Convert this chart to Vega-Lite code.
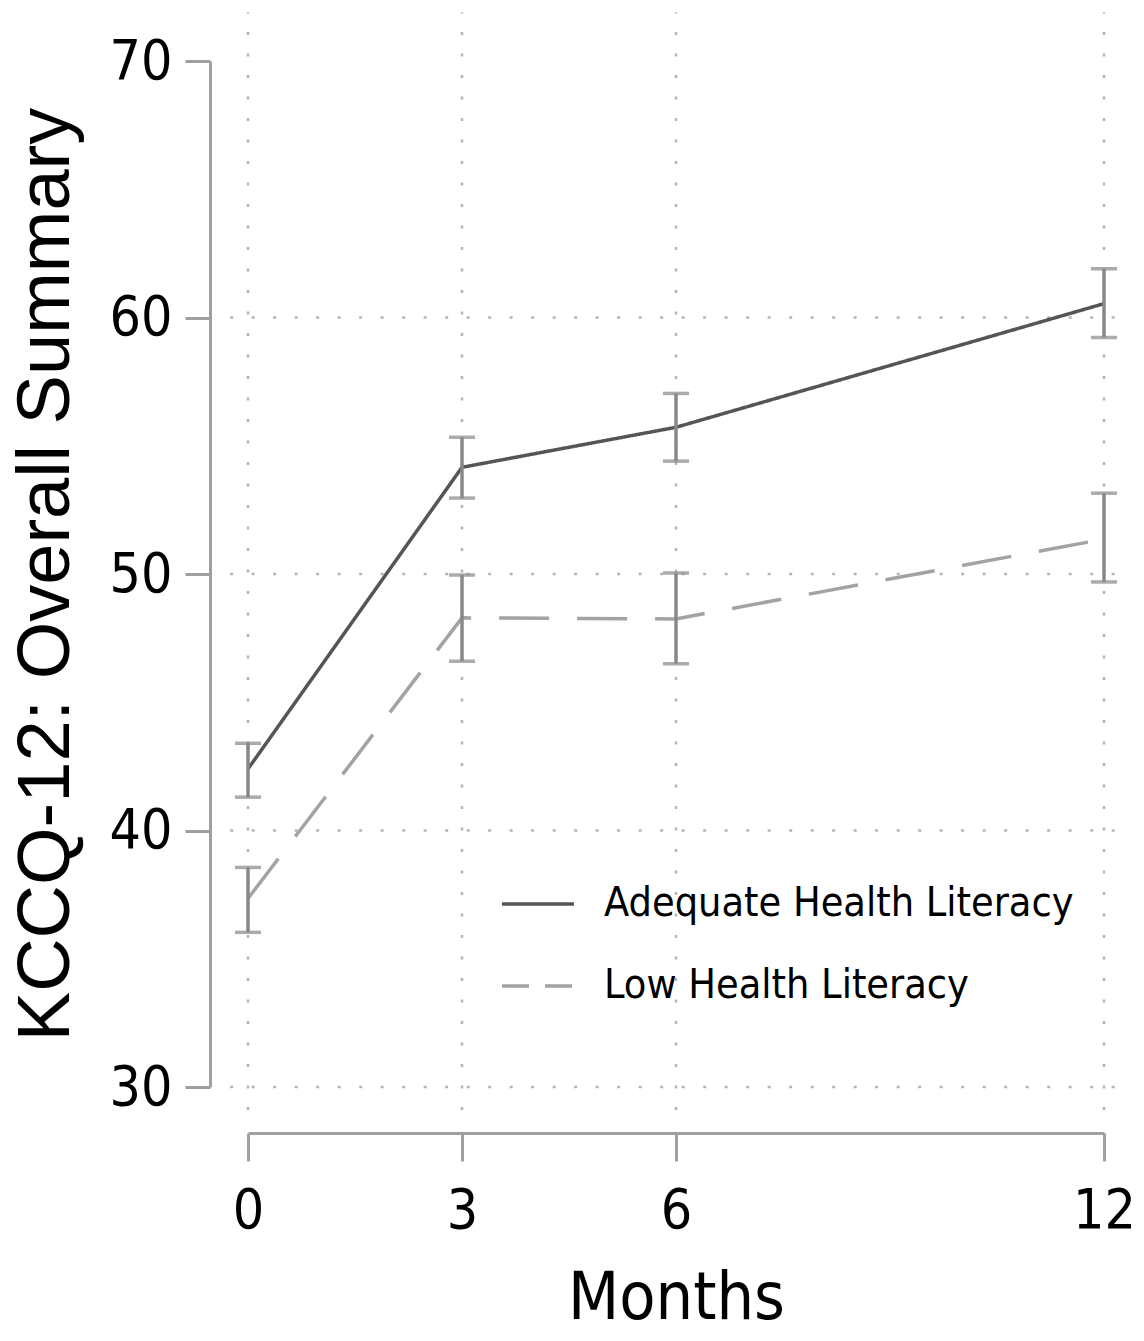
{
  "$schema": "https://vega.github.io/schema/vega-lite/v6.json",
  "width": 856,
  "height": 1026,
  "autosize": "none",
  "padding": {"left": 248, "top": 61, "right": 40, "bottom": 254},
  "background": "white",
  "config": {"view": {"stroke": null}},
  "datasets": {
    "main": [
      {"month": 0, "group": "Adequate Health Literacy", "mean": 42.4, "lo": 41.3, "hi": 43.4},
      {"month": 3, "group": "Adequate Health Literacy", "mean": 54.16, "lo": 52.96, "hi": 55.33},
      {"month": 6, "group": "Adequate Health Literacy", "mean": 55.72, "lo": 54.4, "hi": 57.04},
      {"month": 12, "group": "Adequate Health Literacy", "mean": 60.54, "lo": 59.22, "hi": 61.9},
      {"month": 0, "group": "Low Health Literacy", "mean": 37.35, "lo": 36.03, "hi": 38.56},
      {"month": 3, "group": "Low Health Literacy", "mean": 48.29, "lo": 46.6, "hi": 49.96},
      {"month": 6, "group": "Low Health Literacy", "mean": 48.25, "lo": 46.5, "hi": 50.04},
      {"month": 12, "group": "Low Health Literacy", "mean": 51.36, "lo": 49.69, "hi": 53.15}
    ],
    "xgrid": [{"month": 0}, {"month": 3}, {"month": 6}, {"month": 12}],
    "ygrid": [{"score": 30}, {"score": 40}, {"score": 50}, {"score": 60}]
  },
  "resolve": {"scale": {"color": "independent", "strokeDash": "independent"}},
  "layer": [
    {
      "data": {"name": "xgrid"},
      "mark": {"type": "rule", "color": "#b4b4b4", "strokeWidth": 2.5, "strokeDash": [3, 18.5]},
      "encoding": {
        "x": {"field": "month", "type": "quantitative", "scale": {"domain": [0, 12]}, "title": "Months"},
        "y": {"datum": 29.1, "type": "quantitative", "scale": {"domain": [30, 70]}, "title": "KCCQ-12: Overall Summary"},
        "y2": {"datum": 71.9}
      }
    },
    {
      "data": {"name": "ygrid"},
      "mark": {"type": "rule", "color": "#b4b4b4", "strokeWidth": 2.5, "strokeDash": [3, 18.5]},
      "encoding": {
        "y": {"field": "score", "type": "quantitative", "title": "KCCQ-12: Overall Summary"},
        "x": {"datum": -0.25, "type": "quantitative", "title": "Months"},
        "x2": {"datum": 12.3}
      }
    },
    {
      "data": {"name": "main"},
      "mark": {"type": "line", "strokeWidth": 3.5},
      "encoding": {
        "x": {
          "field": "month", "type": "quantitative",
          "axis": {
            "title": "Months", "values": [0, 3, 6, 12], "format": "d", "grid": false,
            "offset": 46, "tickSize": 28, "tickWidth": 3, "tickColor": "#a0a0a0",
            "domainColor": "#a0a0a0", "domainWidth": 3,
            "labelFont": "Liberation Sans Narrow, Arial Narrow, DejaVu Sans Condensed, sans-serif", "labelFontSize": 55, "labelColor": "#000000",
            "labelPadding": 23, "labelFlush": false,
            "titleFont": "Liberation Sans Narrow, Arial Narrow, DejaVu Sans Condensed, sans-serif", "titleFontSize": 66, "titleFontWeight": "normal",
            "titleColor": "#000000", "titlePadding": 28
          }
        },
        "y": {
          "field": "mean", "type": "quantitative",
          "axis": {
            "title": "KCCQ-12: Overall Summary", "values": [30, 40, 50, 60, 70], "format": "d", "grid": false,
            "offset": 38, "tickSize": 25, "tickWidth": 3, "tickColor": "#a0a0a0",
            "domainColor": "#a0a0a0", "domainWidth": 3,
            "labelFont": "Liberation Sans Narrow, Arial Narrow, DejaVu Sans Condensed, sans-serif", "labelFontSize": 55, "labelColor": "#000000",
            "labelPadding": 13, "labelFlush": false,
            "titleFont": "Liberation Sans", "titleFontSize": 74, "titleFontWeight": "normal",
            "titleColor": "#000000", "titlePadding": 25
          }
        },
        "color": {
          "field": "group", "type": "nominal",
          "scale": {"domain": ["Adequate Health Literacy", "Low Health Literacy"], "range": ["#555555", "#a3a3a3"]},
          "legend": null
        },
        "strokeDash": {
          "field": "group", "type": "nominal",
          "scale": {"domain": ["Adequate Health Literacy", "Low Health Literacy"], "range": [[1, 0], [50, 28]]},
          "legend": null
        }
      }
    },
    {
      "data": {"name": "main"},
      "transform": [{"filter": "false"}],
      "mark": {"type": "line", "strokeWidth": 3.5},
      "encoding": {
        "x": {"field": "month", "type": "quantitative", "title": "Months"},
        "y": {"field": "mean", "type": "quantitative", "title": "KCCQ-12: Overall Summary"},
        "color": {
          "field": "group", "type": "nominal",
          "scale": {"domain": ["Adequate Health Literacy", "Low Health Literacy"], "range": ["#555555", "#a3a3a3"]},
          "legend": {
            "title": null, "orient": "none", "legendX": 252, "legendY": 805,
            "symbolType": "stroke", "symbolSize": 5184, "symbolStrokeWidth": 3.5,
            "labelFont": "Liberation Sans Narrow, Arial Narrow, DejaVu Sans Condensed, sans-serif", "labelFontSize": 41, "labelColor": "#000000",
            "labelLimit": 800, "labelOffset": 28, "rowPadding": 24
          }
        },
        "strokeDash": {
          "field": "group", "type": "nominal",
          "scale": {"domain": ["Adequate Health Literacy", "Low Health Literacy"], "range": [[1, 0], [27, 16]]},
          "legend": null
        }
      }
    },
    {
      "data": {"name": "main"},
      "mark": {"type": "errorbar", "color": "#888888", "thickness": 3.5, "ticks": {"size": 26, "thickness": 3.5, "color": "#888888"}},
      "encoding": {
        "x": {"field": "month", "type": "quantitative", "title": "Months"},
        "y": {"field": "lo", "type": "quantitative", "title": "KCCQ-12: Overall Summary"},
        "y2": {"field": "hi"},
        "detail": {"field": "group"}
      }
    }
  ]
}
